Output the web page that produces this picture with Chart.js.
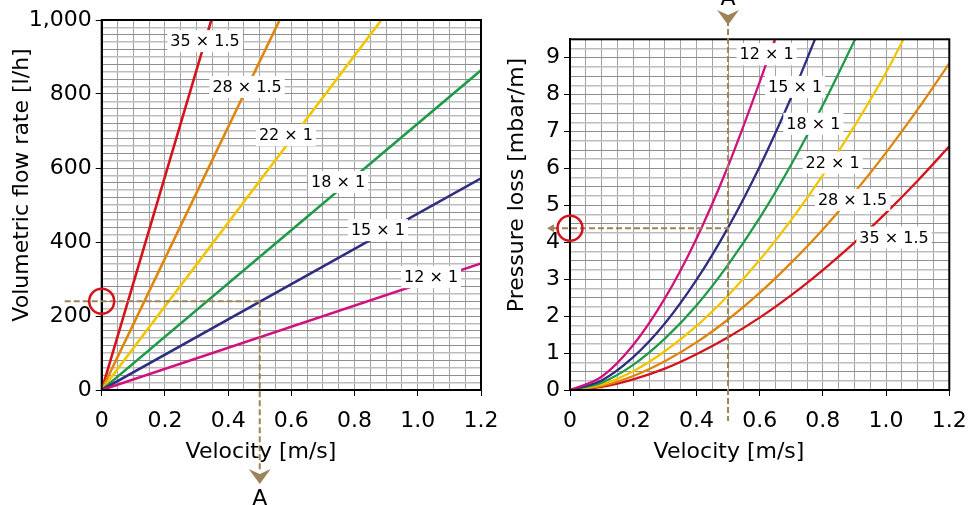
<!DOCTYPE html>
<html>
<head>
<meta charset="utf-8">
<script src="https://cdn.jsdelivr.net/npm/chart.js@4"></script>
<style>
  html, body { margin: 0; padding: 0; background: #fff; }
  body { width: 973px; height: 505px; position: relative; overflow: hidden; }
  #flowWrap { position: absolute; left: 0; top: 0; width: 520px; height: 505px; }
  #lossWrap { position: absolute; left: 490px; top: 0; width: 500px; height: 505px; }
</style>
</head>
<body>
<div id="flowWrap"><canvas id="flowChart"></canvas></div>
<div id="lossWrap"><canvas id="lossChart"></canvas></div>
<script>
// Pipe sizes (outer diameter x wall) and colours
const pipes = ['12 × 1', '15 × 1', '18 × 1', '22 × 1', '28 × 1.5', '35 × 1.5'];
const pipeColors = ['#d1127b', '#2e2d80', '#1f9a48', '#f2c500', '#e0850c', '#d4131c'];

// Left: volumetric flow rate [l/h] against velocity [m/s]
const flowVelocity = [[0, 1.2], [0, 1.2], [0, 1.2], [0, 0.885], [0, 0.563], [0, 0.347]];
const flowRate = [[0, 342], [0, 572], [0, 864], [0, 1000], [0, 1000], [0, 1000]];
const flowLabelAt = [[1.042, 305], [0.874, 432], [0.748, 562], [0.583, 689], [0.46, 819], [0.327, 943]];

// Right: pressure loss [mbar/m] against velocity [m/s]
const lossVelocity = [
    [0, 0.1, 0.2, 0.3, 0.4, 0.5, 0.6, 0.648],
    [0, 0.1, 0.2, 0.3, 0.4, 0.5, 0.6, 0.7, 0.775],
    [0, 0.1, 0.2, 0.3, 0.4, 0.5, 0.6, 0.7, 0.8, 0.902],
    [0, 0.1, 0.2, 0.3, 0.4, 0.5, 0.6, 0.7, 0.8, 0.9, 1.0, 1.055],
    [0, 0.1, 0.2, 0.3, 0.4, 0.5, 0.6, 0.7, 0.8, 0.9, 1.0, 1.1, 1.2],
    [0, 0.1, 0.2, 0.3, 0.4, 0.5, 0.6, 0.7, 0.8, 0.9, 1.0, 1.1, 1.2]
];
const lossValues = [
    [0, 0.36, 1.22, 2.48, 4.10, 6.06, 8.34, 9.5],
    [0, 0.26, 0.89, 1.80, 2.98, 4.40, 6.05, 7.93, 9.5],
    [0, 0.20, 0.68, 1.39, 2.29, 3.39, 4.66, 6.11, 7.72, 9.5],
    [0, 0.15, 0.51, 1.05, 1.73, 2.56, 3.52, 4.61, 5.82, 7.15, 8.60, 9.5],
    [0, 0.11, 0.38, 0.78, 1.29, 1.91, 2.63, 3.45, 4.35, 5.35, 6.43, 7.60, 8.85],
    [0, 0.085, 0.29, 0.58, 0.97, 1.43, 1.96, 2.57, 3.25, 3.99, 4.80, 5.67, 6.60]
];
const lossLabelAt = [[0.622, 9.1], [0.712, 8.21], [0.770, 7.21], [0.831, 6.16], [0.894, 5.15], [1.025, 4.13]];

// Example reading "A": 15 x 1 at 0.5 m/s
const markVelocity = 0.5;
const markFlow = 240;
const markLoss = 4.38;

const FONT = 'DejaVu Sans, Verdana, sans-serif';
const DASH_COLOR = '#9c8458';
const RING_COLOR = '#d4131c';

const isStep = (v, s) => Math.abs(v / s - Math.round(v / s)) < 1e-6;
const fmtVelocity = (v) => Math.abs(v) < 1e-9 ? '0' : v.toFixed(1);

function makeDatasets(xs, ys, width, curved) {
    return pipes.map((name, i) => ({
        label: name,
        data: xs[i].map((x, j) => ({ x: x, y: ys[i][j] })),
        borderColor: pipeColors[i],
        borderWidth: width,
        pointRadius: 0,
        fill: false,
        tension: curved ? 0.4 : 0,
        cubicInterpolationMode: curved ? 'monotone' : 'default'
    }));
}

function xScale() {
    return {
        type: 'linear', min: 0, max: 1.2,
        ticks: {
            stepSize: 0.05, autoSkip: false, maxRotation: 0, minRotation: 0,
            padding: 12, color: '#000', font: { family: FONT, size: 22 },
            callback: (v) => isStep(v, 0.2) ? fmtVelocity(v) : ''
        },
        grid: {
            color: '#a3a3a3', lineWidth: 1, tickLength: 6,
            tickColor: (ctx) => ctx.tick && isStep(ctx.tick.value, 0.2) ? '#000' : 'rgba(0,0,0,0)'
        },
        border: { display: true, color: '#000', width: 2 },
        afterFit: (s) => { s.height = 115; }
    };
}

function yScale(max, step, labelStep, width, fmt) {
    return {
        type: 'linear', min: 0, max: max,
        ticks: {
            stepSize: step, autoSkip: false, padding: 4, color: '#000',
            font: { family: FONT, size: 22 },
            callback: (v) => isStep(v, labelStep) && v <= max ? fmt(v) : ''
        },
        grid: {
            color: (ctx) => ctx.tick && Math.round(ctx.tick.value / step) % 2 === 0 ? '#8e8e8e' : '#bdbdbd',
            lineWidth: (ctx) => ctx.tick && Math.round(ctx.tick.value / step) % 2 === 0 ? 1 : 1.6,
            tickLength: 6,
            tickColor: (ctx) => ctx.tick && isStep(ctx.tick.value, labelStep) ? '#000' : 'rgba(0,0,0,0)'
        },
        border: { display: true, color: '#000', width: 2 },
        afterFit: (s) => { s.width = width; }
    };
}

// Frame, pipe labels, titles and the "A" reading
const decorPlugin = {
    id: 'decor',
    afterDatasetsDraw(chart) {
        const o = chart.options.plugins.decor;
        const { ctx, chartArea: a } = chart;
        const xs = chart.scales.x, ys = chart.scales.y;
        ctx.save();

        // frame
        ctx.strokeStyle = '#000';
        ctx.lineWidth = 2;
        ctx.strokeRect(a.left, a.top, a.right - a.left, a.bottom - a.top);

        // pipe labels
        ctx.font = '16px ' + FONT;
        ctx.textAlign = 'center';
        ctx.textBaseline = 'middle';
        o.labels.forEach((p, i) => {
            const px = xs.getPixelForValue(p[0]);
            const py = ys.getPixelForValue(p[1]);
            const w = ctx.measureText(pipes[i]).width + 6;
            ctx.fillStyle = '#fff';
            ctx.fillRect(px - w / 2, py - 11, w, 22);
            ctx.fillStyle = '#000';
            ctx.fillText(pipes[i], px, py + 1);
        });

        // dashed reading lines
        const mx = xs.getPixelForValue(markVelocity);
        const my = ys.getPixelForValue(o.markValue);
        const vFrom = o.vFrom === null ? my : o.vFrom;
        ctx.strokeStyle = DASH_COLOR;
        ctx.lineWidth = 2;
        ctx.setLineDash([6, 3]);
        ctx.beginPath();
        ctx.moveTo(a.left + o.hStart, my);
        ctx.lineTo(mx, my);
        ctx.moveTo(mx, vFrom);
        ctx.lineTo(mx, o.vTo);
        ctx.stroke();
        ctx.setLineDash([]);

        // arrow heads
        ctx.fillStyle = DASH_COLOR;
        ctx.beginPath();
        const t = o.arrowTip;
        ctx.moveTo(mx, t);
        ctx.lineTo(mx - 11, t - 15);
        ctx.lineTo(mx, t - 10);
        ctx.lineTo(mx + 11, t - 15);
        ctx.closePath();
        ctx.fill();
        if (o.leftArrow) {
            const lx = a.left + o.hStart;
            ctx.beginPath();
            ctx.moveTo(lx - 6, my);
            ctx.lineTo(lx + 1, my - 4);
            ctx.lineTo(lx + 1, my + 4);
            ctx.closePath();
            ctx.fill();
        }

        // "A"
        ctx.fillStyle = '#000';
        ctx.font = '22px ' + FONT;
        ctx.textAlign = 'center';
        ctx.textBaseline = 'alphabetic';
        ctx.fillText('A', mx, o.aBase);

        // red ring on the axis
        ctx.strokeStyle = RING_COLOR;
        ctx.lineWidth = 2.5;
        ctx.beginPath();
        ctx.arc(a.left, my, 12.5, 0, Math.PI * 2);
        ctx.stroke();

        // axis titles
        ctx.textBaseline = 'middle';
        ctx.fillText(o.xTitle, o.xTitlePos[0], o.xTitlePos[1]);
        ctx.translate(o.yTitlePos[0], o.yTitlePos[1]);
        ctx.rotate(-Math.PI / 2);
        ctx.fillText(o.yTitle, 0, 0);
        ctx.restore();
    }
};

Chart.register(decorPlugin);

new Chart(document.getElementById('flowChart'), {
    type: 'line',
    data: { datasets: makeDatasets(flowVelocity, flowRate, 2.6, false) },
    options: {
        responsive: true, maintainAspectRatio: false, animation: false, devicePixelRatio: 1,
        layout: { padding: { left: 0, right: 39, top: 20, bottom: 0 } },
        scales: {
            x: xScale(),
            y: yScale(1000, 20, 200, 101.7, (v) => v.toLocaleString('en-US'))
        },
        plugins: {
            legend: { display: false }, tooltip: { enabled: false },
            decor: {
                labels: flowLabelAt, markValue: markFlow,
                hStart: -37, leftArrow: false,
                vFrom: null, vTo: 472, arrowTip: 484, aBase: 505,
                xTitle: 'Velocity [m/s]', xTitlePos: [261, 452],
                yTitle: 'Volumetric flow rate [l/h]', yTitlePos: [22.5, 185]
            }
        }
    }
});

new Chart(document.getElementById('lossChart'), {
    type: 'line',
    data: { datasets: makeDatasets(lossVelocity, lossValues, 2.3, true) },
    options: {
        responsive: true, maintainAspectRatio: false, animation: false, devicePixelRatio: 1,
        layout: { padding: { left: 0, right: 40.7, top: 39.3, bottom: 0 } },
        scales: {
            x: xScale(),
            y: yScale(9.5, 0.25, 1, 80, (v) => String(Math.round(v)))
        },
        plugins: {
            legend: { display: false }, tooltip: { enabled: false },
            decor: {
                labels: lossLabelAt, markValue: markLoss,
                hStart: -17, leftArrow: true,
                vFrom: 20, vTo: 421, arrowTip: 25, aBase: 5,
                xTitle: 'Velocity [m/s]', xTitlePos: [239, 452],
                yTitle: 'Pressure loss [mbar/m]', yTitlePos: [27.5, 185]
            }
        }
    }
});
</script>
</body>
</html>
